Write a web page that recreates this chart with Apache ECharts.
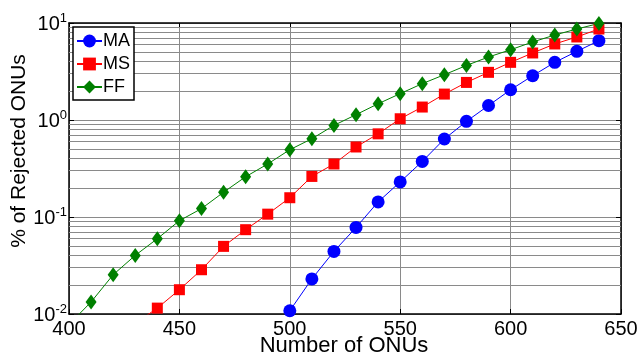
<!DOCTYPE html>
<html>
<head>
<meta charset="utf-8">
<script src="https://cdn.jsdelivr.net/npm/echarts@6/dist/echarts.min.js"></script>
<style>html,body{margin:0;padding:0;background:#fff}#c{width:637px;height:358px}</style>
</head>
<body>
<div id="c"></div>
<script>
var xMA = [500,510,520,530,540,550,560,570,580,590,600,610,620,630,640];
var MA = [0.0108,0.023,0.0442,0.078,0.143,0.23,0.374,0.637,0.968,1.41,2.05,2.86,3.93,5.1,6.57];
var xMS = [430,440,450,460,470,480,490,500,510,520,530,540,550,560,570,580,590,600,610,620,630,640];
var MS = [0.008,0.0115,0.0178,0.0286,0.0498,0.074,0.107,0.158,0.262,0.352,0.527,0.72,1.03,1.36,1.85,2.44,3.1,3.93,4.91,6.08,7.18,8.67];
var xFF = [400,410,420,430,440,450,460,470,480,490,500,510,520,530,540,550,560,570,580,590,600,610,620,630,640];
var FF = [0.0078,0.0133,0.0254,0.0402,0.0597,0.0916,0.122,0.18,0.26,0.352,0.494,0.641,0.88,1.135,1.47,1.87,2.37,2.93,3.65,4.46,5.3,6.37,7.52,8.67,9.9];
var minorGrid = [0.02,0.03,0.04,0.05,0.06,0.07,0.08,0.09,0.2,0.3,0.4,0.5,0.6,0.7,0.8,0.9,2,3,4,5,6,7,8,9];
var xTitle = 'Number of ONUs';
var yTitle = '% of Rejected ONUs';

function pairs(xs, ys){ return xs.map(function(x,i){ return [x, ys[i]]; }); }
var FONT = 'Arial, "Liberation Sans", sans-serif';
var GRIDC = '#8a8a8a';

var chart = echarts.init(document.getElementById('c'), null, {renderer:'canvas'});
chart.setOption({
  animation: false,
  backgroundColor: '#fff',
  textStyle: {fontFamily: FONT},
  grid: {left: 69, right: 16, top: 23, bottom: 44, containLabel: false, outerBoundsMode: 'none'},
  legend: {
    data: ['MA','MS','FF'],
    orient: 'vertical',
    left: 73, top: 27,
    padding: [5,4,4,3],
    itemGap: 5,
    itemWidth: 25, itemHeight: 16,
    borderColor: '#000', borderWidth: 1.5,
    backgroundColor: '#fff',
    textStyle: {fontSize: 18, color: '#000', fontFamily: FONT, padding: [0,0,0,-4]}
  },
  xAxis: [{
    type: 'value', min: 400, max: 650, interval: 50, position: 'bottom',
    axisLine: {show: true, onZero: false, lineStyle: {color: '#000', width: 1.5}},
    axisTick: {show: true, inside: true, length: 5, lineStyle: {color: '#000'}},
    axisLabel: {fontSize: 20, color: '#000', margin: 5, fontFamily: FONT},
    splitLine: {show: true, lineStyle: {color: GRIDC, width: 1}}
  },{
    type: 'value', min: 400, max: 650, interval: 50, position: 'top',
    axisLine: {show: true, onZero: false, lineStyle: {color: '#000', width: 1.5}},
    axisTick: {show: true, inside: true, length: 5, lineStyle: {color: '#000'}},
    axisLabel: {show: false}, splitLine: {show: false}
  }],
  yAxis: [{
    type: 'log', logBase: 10, min: 0.01, max: 10, position: 'left',
    axisLine: {show: true, onZero: false, lineStyle: {color: '#000', width: 1.5}},
    axisTick: {show: true, inside: true, length: 5, lineStyle: {color: '#000'}},
    splitLine: {show: true, lineStyle: {color: GRIDC, width: 1}},
    axisLabel: {
      margin: 2, color: '#000',
      formatter: function(v){ var e = Math.round(Math.log10(v)); return '{b|10}{s|' + e + '}'; },
      rich: {
        b: {fontSize: 20, fontFamily: FONT, color: '#000', padding: [2,0,0,0]},
        s: {fontSize: 13, fontFamily: FONT, color: '#000', padding: [0,0,9,0]}
      }
    }
  },{
    type: 'log', logBase: 10, min: 0.01, max: 10, position: 'right',
    axisLine: {show: true, onZero: false, lineStyle: {color: '#000', width: 1.5}},
    axisTick: {show: true, inside: true, length: 5, lineStyle: {color: '#000'}},
    axisLabel: {show: false}, splitLine: {show: false}
  }],
  graphic: [{
    type: 'text', x: 19, y: 151, rotation: Math.PI/2,
    style: {text: yTitle, fontSize: 21, fontFamily: FONT, fill: '#000', align: 'center', verticalAlign: 'middle'}
  },{
    type: 'text', x: 344, y: 346,
    style: {text: xTitle, fontSize: 22, fontFamily: FONT, fill: '#000', align: 'center', verticalAlign: 'middle'}
  }],
  series: [
    {
      name: 'grid', type: 'line', data: [], z: 1, silent: true,
      markLine: {
        silent: true, symbol: ['none','none'], z: 1,
        label: {show: false},
        lineStyle: {color: GRIDC, width: 1, type: 'solid'},
        emphasis: {disabled: true},
        data: minorGrid.map(function(v){ return {yAxis: v}; })
      }
    },
    {
      name: 'MA', type: 'line', data: pairs(xMA, MA), z: 3,
      symbol: 'circle', symbolSize: 13, clip: true,
      itemStyle: {color: '#0000ff'}, lineStyle: {color: '#0000ff', width: 1}
    },
    {
      name: 'MS', type: 'line', data: pairs(xMS, MS), z: 3,
      symbol: 'rect', symbolSize: 11, clip: true,
      itemStyle: {color: '#ff0000'}, lineStyle: {color: '#ff0000', width: 1}
    },
    {
      name: 'FF', type: 'line', data: pairs(xFF, FF), z: 3,
      symbol: 'diamond', symbolSize: [11,15], clip: true,
      itemStyle: {color: '#008000'}, lineStyle: {color: '#008000', width: 1}
    }
  ]
});
</script>
</body>
</html>
